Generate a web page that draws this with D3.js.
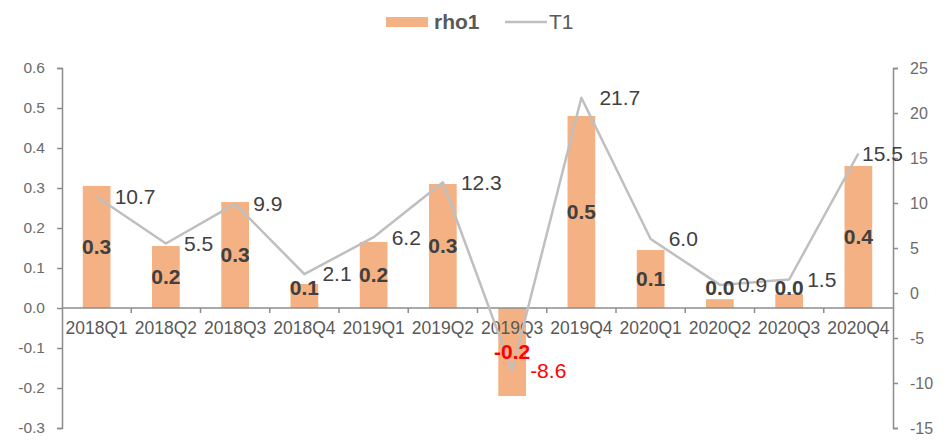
<!DOCTYPE html>
<html>
<head>
<meta charset="utf-8">
<script src="https://cdn.jsdelivr.net/npm/d3@7"></script>
<style>
  body { margin: 0; background: #fff; }
  text { font-family: Arial, "Liberation Sans", sans-serif; }
</style>
</head>
<body>
<div id="chart"></div>
<script>
var quarters = ["2018Q1","2018Q2","2018Q3","2018Q4","2019Q1","2019Q2","2019Q3","2019Q4","2020Q1","2020Q2","2020Q3","2020Q4"]
var rho1 = [0.305, 0.155, 0.265, 0.06, 0.165, 0.31, -0.22, 0.48, 0.145, 0.022, 0.035, 0.355]
var t1 = [10.7, 5.5, 9.9, 2.1, 6.2, 12.3, -8.6, 21.7, 6.0, 0.9, 1.5, 15.5]
var leftTicks = [0.6, 0.5, 0.4, 0.3, 0.2, 0.1, 0.0, -0.1, -0.2, -0.3]
var rightTicks = [25, 20, 15, 10, 5, 0, -5, -10, -15]

var svgWidth = 951
var svgHeight = 441

var margin = { top: 68, bottom: 13, left: 62, right: 58 }
var width = svgWidth - margin.left - margin.right
var height = svgHeight - margin.top - margin.bottom

// hyphen instead of unicode minus, like the original
var locale = d3.formatLocale({ decimal: ".", thousands: ",", grouping: [3], currency: ["", ""], minus: "-" })
var fmt1 = locale.format(".1f")
var fmt0 = locale.format("d")

var svg = d3.select("#chart")
    .append("svg")
    .attr("width", svgWidth)
    .attr("height", svgHeight)

var chartGroup = svg.append("g")
    .attr("transform", `translate(${margin.left}, ${margin.top})`)

var xBand = d3.scaleBand()
    .domain(quarters)
    .range([0, width])
    .paddingInner(0.6)
    .paddingOuter(0.3)

var xCenter = d => xBand(d) + xBand.bandwidth() / 2
var step = width / quarters.length

var yLeft = d3.scaleLinear().domain([-0.3, 0.6]).range([height, 0])
var yRight = d3.scaleLinear().domain([-15, 25]).range([height, 0])

var axisColor = "#8c8c8c"
var tickColor = "#6b6b6b"

// left axis
var leftAxis = d3.axisLeft(yLeft).tickValues(leftTicks).tickFormat(fmt1).tickSizeOuter(0).tickSize(5).tickPadding(12)
var gl = chartGroup.append("g").call(leftAxis)
gl.select(".domain").attr("stroke", axisColor).attr("stroke-width", 1.5)
gl.selectAll(".tick line").attr("stroke", axisColor).attr("stroke-width", 1.5)
gl.selectAll("text").attr("fill", tickColor).style("font-size", "15.5px")

// right axis
var rightAxis = d3.axisRight(yRight).tickValues(rightTicks).tickFormat(fmt0).tickSizeOuter(0).tickSize(5).tickPadding(12)
var gr = chartGroup.append("g").attr("transform", `translate(${width},0)`).call(rightAxis)
gr.select(".domain").attr("stroke", axisColor).attr("stroke-width", 1.5)
gr.selectAll(".tick line").attr("stroke", axisColor).attr("stroke-width", 1.5)
gr.selectAll("text").attr("fill", tickColor).style("font-size", "16px")

// bars
chartGroup.selectAll("rect.bar")
    .data(rho1)
    .enter()
    .append("rect")
    .attr("class", "bar")
    .attr("x", (d, i) => xBand(quarters[i]))
    .attr("width", xBand.bandwidth())
    .attr("y", d => yLeft(Math.max(0, d)))
    .attr("height", d => Math.abs(yLeft(d) - yLeft(0)))
    .attr("fill", "#f4b183")

// x axis at zero
var y0 = yLeft(0)
var xg = chartGroup.append("g").attr("transform", `translate(0, ${y0})`)
xg.append("line").attr("x1", 0).attr("x2", width).attr("stroke", axisColor).attr("stroke-width", 1.5)
xg.selectAll("line.tk")
    .data(d3.range(1, quarters.length))
    .enter()
    .append("line")
    .attr("class", "tk")
    .attr("x1", d => d * step).attr("x2", d => d * step)
    .attr("y1", 0).attr("y2", 5)
    .attr("stroke", axisColor).attr("stroke-width", 1.5)
xg.selectAll("text")
    .data(quarters)
    .enter()
    .append("text")
    .attr("x", d => xCenter(d))
    .attr("y", 26)
    .attr("text-anchor", "middle")
    .attr("fill", "#595959")
    .style("font-size", "17.5px")
    .text(d => d)

// T1 line
var line = d3.line()
    .x((d, i) => xCenter(quarters[i]))
    .y(d => yRight(d))

chartGroup.append("path")
    .datum(t1)
    .attr("d", line)
    .attr("fill", "none")
    .attr("stroke", "#bfbfbf")
    .attr("stroke-width", 2.5)
    .attr("stroke-linejoin", "round")

// bar labels (centred in the bar, kept clear of the axis for short bars)
chartGroup.selectAll("text.barlab")
    .data(rho1)
    .enter()
    .append("text")
    .attr("class", "barlab")
    .attr("x", (d, i) => xCenter(quarters[i]))
    .attr("y", d => d < 0 ? (yLeft(d) + y0) / 2 : Math.min((yLeft(d) + y0) / 2, y0 - 20))
    .attr("dy", "0.35em")
    .attr("text-anchor", "middle")
    .attr("fill", d => d < 0 ? "#ff0000" : "#404040")
    .style("font-size", "21px")
    .style("font-weight", "bold")
    .text(d => fmt1(d))

// line labels
chartGroup.selectAll("text.linelab")
    .data(t1)
    .enter()
    .append("text")
    .attr("class", "linelab")
    .attr("x", (d, i) => Math.min(xCenter(quarters[i]) + 18, width - 31))
    .attr("y", d => yRight(d))
    .attr("dy", "0.35em")
    .attr("fill", d => d < 0 ? "#ff0000" : "#404040")
    .style("font-size", "21px")
    .text(d => fmt1(d))

// legend
var legend = svg.append("g")
legend.append("rect").attr("x", 386).attr("y", 17).attr("width", 42).attr("height", 10).attr("fill", "#f4b183")
legend.append("text").attr("x", 434).attr("y", 22).attr("dy", "0.35em")
    .attr("fill", "#595959").style("font-size", "21px").style("font-weight", "bold").text("rho1")
legend.append("line").attr("x1", 505).attr("x2", 547).attr("y1", 22).attr("y2", 22)
    .attr("stroke", "#bfbfbf").attr("stroke-width", 2.5)
legend.append("text").attr("x", 549).attr("y", 22).attr("dy", "0.35em")
    .attr("fill", "#595959").style("font-size", "21px").text("T1")
</script>
</body>
</html>
